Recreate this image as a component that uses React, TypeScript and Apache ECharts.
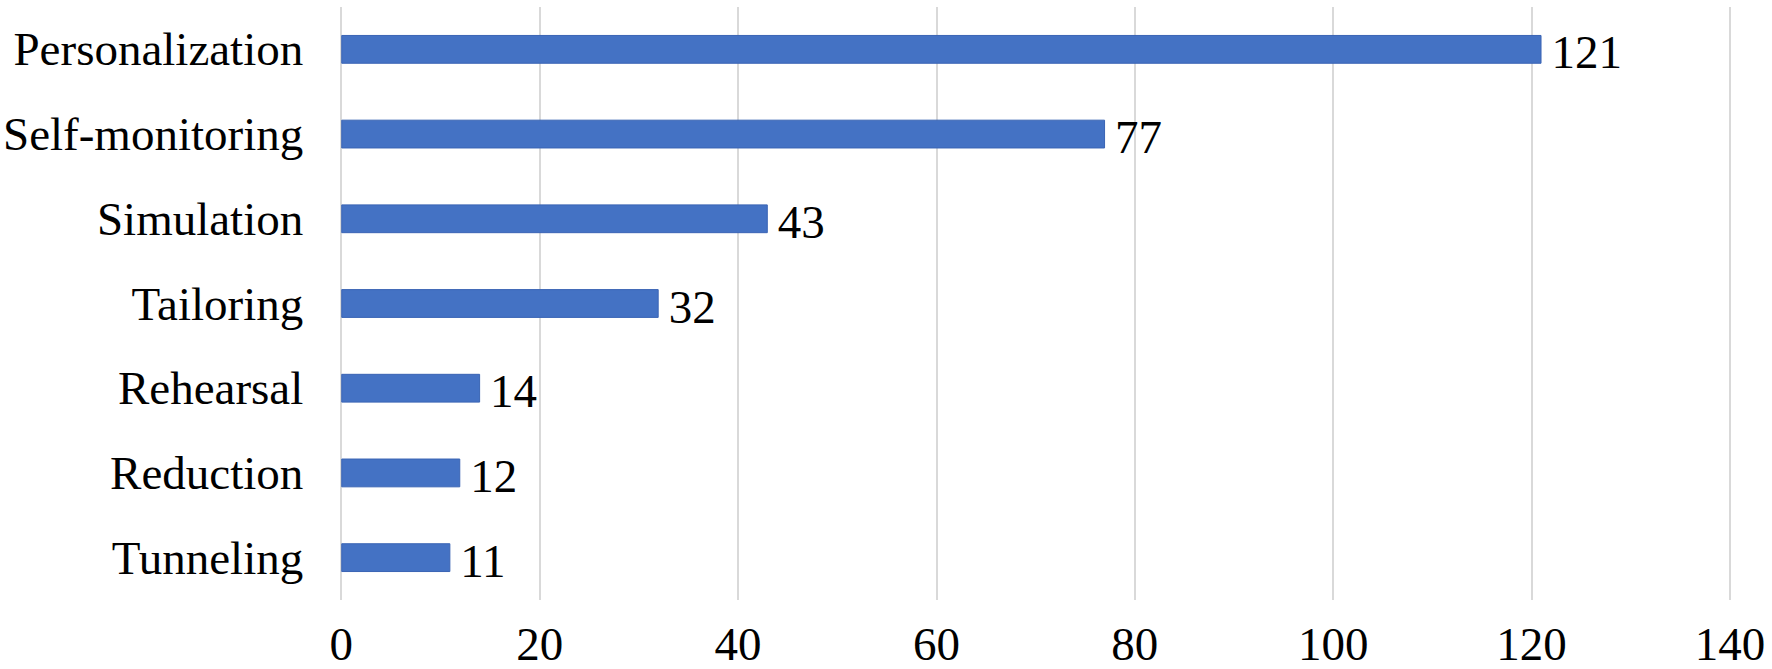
import React, { useEffect, useRef } from "react";
import * as echarts from "echarts";

const categories = ["Personalization", "Self-monitoring", "Simulation", "Tailoring", "Rehearsal", "Reduction", "Tunneling"];
const values = [121, 77, 43, 32, 14, 12, 11];
const xTicks = { min: 0, max: 140, interval: 20 };

const FONT = '"Liberation Serif", "Times New Roman", serif';

export default function App() {
  const ref = useRef<HTMLDivElement>(null);
  useEffect(() => {
    if (!ref.current) return;
    const chart = echarts.init(ref.current, undefined, { renderer: "svg" });
    chart.setOption({
      animation: false,
      backgroundColor: "#ffffff",
      grid: { left: 340, right: 42, top: 7, bottom: 69, containLabel: false },
      xAxis: {
        type: "value",
        min: xTicks.min,
        max: xTicks.max,
        interval: xTicks.interval,
        axisLine: { show: false },
        axisTick: { show: false },
        splitLine: { show: true, lineStyle: { color: "#d9d9d9", width: 2 } },
        axisLabel: { color: "#000", fontFamily: FONT, fontSize: 47, margin: 20 },
      },
      yAxis: {
        type: "category",
        data: categories,
        inverse: true,
        axisLine: { show: false },
        axisTick: { show: false },
        splitLine: { show: false },
        axisLabel: { color: "#000", fontFamily: FONT, fontSize: 47, margin: 38 },
      },
      series: [
        {
          type: "bar",
          data: values,
          barWidth: "34%",
          itemStyle: { color: "#4472C4", borderColor: "#3a64b4", borderWidth: 1 },
          label: {
            show: true,
            position: "right",
            distance: 10,
            offset: [0, 3],
            color: "#000",
            fontFamily: FONT,
            fontSize: 47,
          },
        },
      ],
    });
    return () => chart.dispose();
  }, []);
  return (
    <div
      ref={ref}
      style={{ position: "fixed", left: 0, top: 0, width: 1772, height: 669, background: "#fff" }}
    />
  );
}
